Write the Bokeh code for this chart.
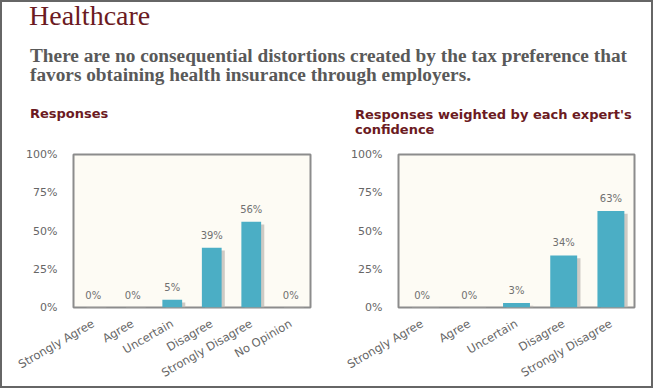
import math
from bokeh.plotting import figure
from bokeh.models import (FactorRange, Range1d, FixedTicker, PrintfTickFormatter,
                          ColumnDataSource, Div)
from bokeh.transform import dodge
from bokeh.layouts import column, row
from bokeh.embed import file_html
from bokeh.resources import INLINE
from bokeh.core.properties import value

# ---------------- data ----------------
title_text = "Healthcare"
question_lines = ["There are no consequential distortions created by the tax preference that",
                  "favors obtaining health insurance through employers."]
left_title = "Responses"
right_title_lines = ["Responses weighted by each expert's", "confidence"]

left_categories = ["Strongly Agree", "Agree", "Uncertain", "Disagree", "Strongly Disagree", "No Opinion"]
left_values = [0, 0, 5, 39, 56, 0]

right_categories = ["Strongly Agree", "Agree", "Uncertain", "Disagree", "Strongly Disagree"]
right_values = [0, 0, 3, 34, 63]

y_ticks = [0, 25, 50, 75, 100]

# ---------------- styles ----------------
DARK_RED = "#6B1A22"
GRAY_TXT = "#666666"
BAR = "#4BAEC5"
SHADOW = "#bdbab4"
FRAME_BG = "#FDFBF4"
SANS = "DejaVu Sans"
W, H = 653, 388
HEADER_H = 140

header_html = f"""
<div style="position:relative;width:{W}px;height:{HEADER_H}px;overflow:visible;">
  <div style="position:absolute;left:29px;top:2px;font-family:'Liberation Serif';font-size:28px;line-height:28px;color:{DARK_RED};white-space:nowrap;">{title_text}</div>
  <div style="position:absolute;left:30px;top:46px;font-family:'Liberation Serif';font-weight:bold;font-size:19.3px;line-height:19px;color:#595959;white-space:nowrap;">{question_lines[0]}<br>{question_lines[1]}</div>
  <div style="position:absolute;left:30px;top:106px;font-family:'{SANS}';font-weight:bold;font-size:13px;line-height:16px;color:{DARK_RED};white-space:nowrap;">{left_title}</div>
  <div style="position:absolute;left:355px;top:107px;font-family:'{SANS}';font-weight:bold;font-size:13px;line-height:15px;color:{DARK_RED};white-space:nowrap;">{right_title_lines[0]}<br>{right_title_lines[1]}</div>
</div>
"""
header = Div(text=header_html, width=W, height=HEADER_H, margin=(0, 0, 0, 0),
             styles={"overflow": "visible"})


def make_chart(categories, values, width, border_left, border_right, bar_width, shadow_dx):
    src = ColumnDataSource(dict(cat=categories, val=values,
                                lab=[f"{v}%" for v in values]))
    p = figure(x_range=FactorRange(*categories), y_range=Range1d(0, 100),
               width=width, height=H - HEADER_H, output_backend="svg", toolbar_location=None,
               min_border_left=border_left, min_border_right=border_right,
               min_border_top=14, min_border_bottom=79)
    p.background_fill_color = FRAME_BG
    p.border_fill_color = None
    p.outline_line_color = "#8c8c8c"
    p.outline_line_width = 2
    p.xgrid.grid_line_color = None
    p.ygrid.grid_line_color = None

    # shadow
    p.vbar(x=dodge("cat", shadow_dx, range=p.x_range), top=dodge("val", -1.8),
           width=bar_width, source=src, fill_color=SHADOW, fill_alpha=0.75,
           line_color=None)
    p.vbar(x="cat", top="val", width=bar_width, source=src,
           fill_color=BAR, line_color=None)
    p.text(x="cat", y="val", text="lab", source=src, y_offset=-7,
           text_align="center", text_baseline="bottom",
           text_font=value(SANS), text_font_size="10px", text_color="#707070")

    for ax in (p.xaxis[0], p.yaxis[0]):
        ax.axis_line_color = None
        ax.major_tick_line_color = None
        ax.minor_tick_line_color = None
        ax.major_label_text_font = SANS
        ax.major_label_text_font_size = "11px"
        ax.major_label_text_color = GRAY_TXT
    p.xaxis.major_label_text_font_size = "11.5px"
    p.yaxis.ticker = FixedTicker(ticks=y_ticks)
    p.yaxis.formatter = PrintfTickFormatter(format="%d%%")
    p.yaxis.major_label_standoff = 10
    p.xaxis.major_label_orientation = math.pi / 6
    p.xaxis.major_label_standoff = 9
    return p


left = make_chart(left_categories, left_values, 330, 73, 20, 0.5, 0.08)
right = make_chart(right_categories, right_values, 323, 68, 19, 0.57, 0.07)

layout = column(header, row(left, right), width=W, height=H,
                styles={"outline": "2px solid #666666", "outline-offset": "-2px"})

open("out.html", "w").write(file_html(layout, INLINE))
